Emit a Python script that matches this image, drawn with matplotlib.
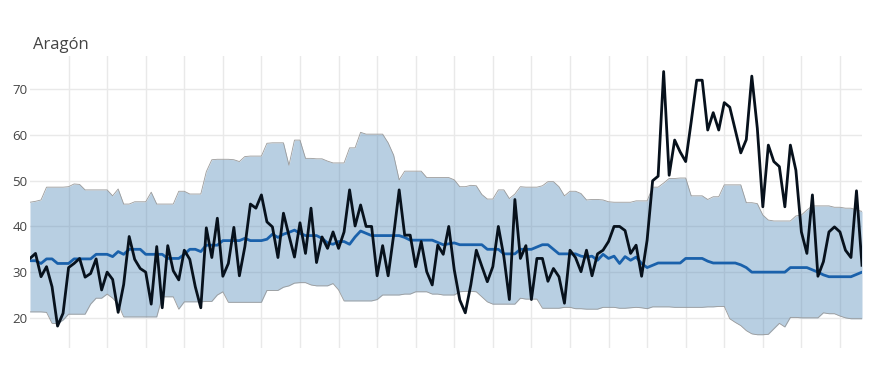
import numpy as np
import matplotlib
matplotlib.use("Agg")
import matplotlib.pyplot as plt

plt.rcParams['font.family'] = ['Open Sans', 'DejaVu Sans']

TITRE = "Aragón"

# valeurs observées (une par jour)
observe = [33.0, 34.1, 29.0, 31.2, 26.8, 18.2, 21.0, 31.0, 31.9, 33.0,
           28.9, 29.7, 32.9, 26.1, 30.0, 28.4, 21.2, 27.3, 37.8, 32.8,
           30.8, 30.0, 23.0, 35.6, 22.2, 35.8, 30.3, 28.3, 34.8, 32.8,
           26.8, 22.2, 39.7, 33.2, 41.8, 29.1, 31.9, 39.8, 29.2, 35.6,
           44.9, 44.0, 46.9, 41.0, 39.9, 33.2, 42.9, 38.0, 33.3, 40.8,
           34.1, 44.0, 32.1, 37.7, 35.2, 38.8, 35.2, 38.8, 48.0, 40.1,
           44.7, 40.0, 40.0, 29.2, 35.8, 29.2, 38.1, 48.0, 38.1, 38.1,
           31.2, 36.7, 30.1, 27.2, 35.9, 33.9, 40.0, 30.5, 23.9, 21.1,
           27.2, 34.8, 31.3, 27.9, 31.2, 40.0, 33.4, 24.0, 45.9, 33.0,
           35.8, 24.0, 33.0, 33.0, 28.0, 30.8, 29.0, 23.2, 34.8, 33.2,
           30.1, 34.8, 29.2, 34.0, 34.8, 36.7, 40.0, 40.0, 39.1, 34.1,
           35.9, 29.1, 37.0, 50.0, 51.0, 73.9, 51.2, 58.9, 56.3, 54.2,
           62.9, 72.0, 72.0, 61.1, 64.9, 61.1, 67.1, 66.1, 61.1, 56.1,
           59.0, 72.9, 61.5, 44.3, 57.8, 54.2, 53.1, 44.3, 57.8, 52.3,
           38.8, 34.1, 46.9, 29.1, 32.3, 38.8, 39.9, 38.8, 34.8, 33.2,
           47.8, 31.5]

# valeur attendue
attendu = [32.5, 32.5, 31.9, 32.9, 32.9, 31.9, 31.9, 31.9, 32.9, 32.9,
           32.9, 32.9, 33.9, 33.9, 33.9, 33.4, 34.5, 33.9, 35.0, 35.0,
           35.0, 33.9, 33.9, 33.9, 33.9, 33.0, 33.0, 33.0, 33.9, 35.0,
           35.0, 34.5, 35.9, 35.9, 35.9, 36.9, 36.9, 36.9, 36.9, 37.4,
           36.9, 36.9, 36.9, 37.2, 38.3, 37.6, 38.3, 38.7, 39.2, 38.5,
           38.0, 38.0, 38.0, 37.4, 36.4, 36.1, 36.7, 36.7, 36.1, 37.7,
           39.0, 38.5, 38.0, 38.0, 38.0, 38.0, 38.0, 38.0, 37.6, 37.0,
           37.0, 37.0, 37.0, 37.0, 36.5, 36.0, 36.2, 36.4, 36.0, 36.0,
           36.0, 36.0, 36.0, 35.0, 35.0, 35.0, 34.0, 34.0, 34.0, 35.0,
           35.0, 35.0, 35.5, 36.0, 36.0, 35.0, 34.0, 34.0, 34.0, 34.0,
           33.5, 33.3, 33.5, 32.6, 33.9, 33.0, 33.5, 31.9, 33.4, 32.6,
           33.3, 31.9, 31.0, 31.5, 32.0, 32.0, 32.0, 32.0, 32.0, 33.0,
           33.0, 33.0, 33.0, 32.4, 32.0, 32.0, 32.0, 32.0, 32.0, 31.6,
           31.0, 30.0, 30.0, 30.0, 30.0, 30.0, 30.0, 30.0, 31.0, 31.0,
           31.0, 31.0, 30.5, 30.0, 29.4, 29.0, 29.0, 29.0, 29.0, 29.0,
           29.5, 30.0]

# bornes de l'intervalle
borne_sup = [45.3, 45.5, 45.8, 48.6, 48.6, 48.6, 48.6, 48.7, 49.3, 49.2,
             48.0, 48.0, 48.0, 48.0, 48.0, 46.7, 48.2, 44.9, 44.9, 45.4,
             45.4, 45.4, 47.5, 44.9, 44.9, 44.9, 44.9, 47.7, 47.7, 47.1,
             47.1, 47.1, 52.0, 54.6, 54.7, 54.7, 54.7, 54.6, 54.2, 55.3,
             55.4, 55.4, 55.4, 58.2, 58.3, 58.3, 58.3, 53.4, 58.9, 58.9,
             54.9, 54.9, 54.8, 54.8, 54.3, 53.9, 53.9, 53.9, 57.2, 57.2,
             60.6, 60.2, 60.2, 60.2, 60.2, 58.3, 55.6, 50.2, 52.1, 52.1,
             52.1, 52.1, 50.7, 50.7, 50.7, 50.7, 50.7, 50.2, 48.7, 48.7,
             49.0, 48.9, 47.0, 46.0, 46.0, 48.0, 48.0, 46.1, 47.1, 48.7,
             48.6, 48.6, 48.6, 48.9, 49.8, 49.8, 48.7, 46.7, 47.7, 47.7,
             47.2, 45.8, 45.9, 45.9, 45.8, 45.4, 45.3, 45.3, 45.3, 45.3,
             45.6, 45.6, 45.6, 48.6, 48.6, 49.5, 50.5, 50.5, 50.6, 50.6,
             46.7, 46.7, 46.7, 45.9, 46.5, 46.5, 49.1, 49.1, 49.1, 49.1,
             45.2, 45.2, 45.0, 42.5, 41.4, 41.2, 41.2, 41.2, 41.2, 42.3,
             42.5, 43.6, 44.5, 44.5, 44.5, 44.5, 44.2, 44.2, 44.0, 44.0,
             43.6, 43.3]

borne_inf = [21.3, 21.3, 21.3, 21.2, 18.8, 18.7, 19.5, 20.8, 20.8, 20.8,
             20.8, 23.0, 24.3, 24.3, 25.2, 24.3, 23.0, 20.2, 20.2, 20.2,
             20.2, 20.2, 20.2, 20.2, 24.6, 24.6, 24.6, 21.9, 23.5, 23.5,
             23.5, 23.5, 23.6, 23.6, 25.0, 25.7, 23.4, 23.4, 23.4, 23.4,
             23.4, 23.4, 23.4, 26.0, 26.0, 26.0, 26.7, 27.0, 27.6, 27.7,
             27.7, 27.2, 27.0, 27.0, 27.0, 27.5, 26.1, 23.7, 23.7, 23.7,
             23.7, 23.7, 23.7, 24.0, 25.0, 25.0, 25.0, 25.0, 25.2, 25.2,
             25.7, 25.7, 25.7, 25.2, 25.2, 25.0, 25.0, 25.0, 25.7, 25.8,
             25.8, 25.7, 24.6, 23.5, 23.0, 23.0, 23.0, 23.0, 23.0, 24.3,
             24.1, 24.1, 24.1, 22.1, 22.1, 22.1, 22.1, 22.3, 22.3, 22.0,
             22.0, 21.9, 21.9, 21.9, 22.3, 22.3, 22.3, 22.1, 22.1, 22.2,
             22.3, 22.2, 22.0, 22.4, 22.4, 22.4, 22.4, 22.3, 22.3, 22.3,
             22.3, 22.3, 22.3, 22.4, 22.4, 22.5, 22.5, 19.8, 19.0, 18.3,
             17.2, 16.5, 16.3, 16.3, 16.4, 17.6, 18.8, 18.0, 20.1, 20.1,
             20.0, 20.0, 20.0, 20.0, 21.1, 20.9, 20.9, 20.4, 20.0, 19.8,
             19.8, 19.8]

y_ticks = [20, 30, 40, 50, 60, 70]


def tracer(observe, attendu, sup, inf):
    jours = np.arange(len(observe))

    fig = plt.figure(figsize=(8.88, 3.68), dpi=100)
    ax = fig.add_axes([30 / 888, 1 - 348 / 368, 832 / 888, 292 / 368])

    # intervalle (transparent : la grille reste visible)
    ax.fill_between(jours, inf, sup, color='#4682b4', alpha=0.38, lw=0,
                    zorder=2)
    ax.plot(jours, sup, color='#9a9a9a', lw=0.6, zorder=3)
    ax.plot(jours, inf, color='#9a9a9a', lw=0.6, zorder=3)

    ax.plot(jours, attendu, color='#1a61ab', lw=2, zorder=4)
    ax.plot(jours, observe, color='#07111c', lw=2, zorder=5)

    ax.set_xlim(0, len(observe) - 1)
    ax.set_ylim(13.4, 77.3)
    ax.set_xticks(np.arange(7, len(observe), 7))
    ax.set_xticklabels([])
    ax.set_yticks(y_ticks)
    ax.set_yticklabels([str(t) for t in y_ticks])
    ax.tick_params(length=0, labelsize=9.5, labelcolor='#444444', pad=2)
    ax.grid(True, color='#e9e9e9', lw=1, zorder=0)
    ax.set_axisbelow(True)
    for s in ax.spines.values():
        s.set_visible(False)

    fig.text(33 / 888, 1 - 45 / 368, TITRE, fontsize=12, color='#444444',
             va='center', ha='left')
    fig.savefig("out.png", dpi=100)


if __name__ == '__main__':
    tracer(observe, attendu, borne_sup, borne_inf)
